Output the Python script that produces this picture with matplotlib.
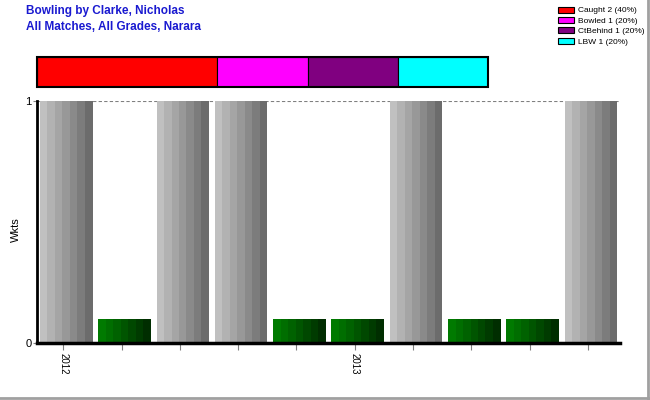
import matplotlib
matplotlib.use("Agg")
import matplotlib.pyplot as plt
import matplotlib.patches as patches
import numpy as np

plt.rcParams["font.family"] = ["Liberation Sans", "DejaVu Sans"]

# match-by-match wickets
wickets = [1, 0, 1, 1, 0, 0, 1, 0, 0, 1]
tick_labels = ["2012", "", "", "", "", "2013", "", "", "", ""]
zero_height = 0.1  # zero-wicket matches are drawn as a short green bar

# dismissal breakdown
dismissal_labels = ["Caught 2 (40%)", "Bowled 1 (20%)", "CtBehind 1 (20%)", "LBW 1 (20%)"]
dismissal_share = [40, 20, 20, 20]
dismissal_colors = ["#ff0000", "#ff00ff", "#800080", "#00ffff"]

title_lines = ["Bowling by Clarke, Nicholas", "All Matches, All Grades, Narara"]

grey_shades = ["#c0c0c0", "#b2b2b2", "#a5a5a5", "#989898", "#8a8a8a", "#7c7c7c", "#6c6c6c"]
green_shades = ["#007a00", "#006e00", "#006200", "#005500", "#004800", "#003b00", "#002e00"]

fig = plt.figure(figsize=(6.5, 4), dpi=100)

# main bar chart
ax = fig.add_axes([37 / 650, 57 / 400, 583 / 650, 242 / 400])
x = np.arange(len(wickets))
bar_w = 0.9
n_strip = len(grey_shades)
strip_w = bar_w / n_strip
for xi, w in zip(x, wickets):
    h = w if w > 0 else zero_height
    shades = grey_shades if w > 0 else green_shades
    for k, c in enumerate(shades):
        left = xi - bar_w / 2 + k * strip_w
        ax.bar(left, h, width=strip_w * 1.02, align="edge", color=c, linewidth=0)

ax.axhline(1, color="#808080", linestyle=(0, (3, 2)), linewidth=0.8, zorder=0)
ax.set_xlim(-0.5, len(wickets) - 0.5)
ax.set_ylim(0, 1)
ax.set_yticks([0, 1])
ax.set_yticklabels(["0", "1"], fontsize=8)
ax.set_xticks(x - 0.05)
ax.set_xticklabels(tick_labels, rotation=270, fontsize=7)
ax.tick_params(axis="x", length=5, color="#808080", pad=2)
ax.tick_params(axis="y", length=3, color="#808080", pad=1)
ax.set_ylabel("Wkts", fontsize=8)
ax.yaxis.set_label_coords(-0.027, 0.467)
for side in ["top", "right"]:
    ax.spines[side].set_visible(False)
ax.spines["left"].set_linewidth(2)
ax.spines["bottom"].set_linewidth(2.5)

# dismissal strip
ax2 = fig.add_axes([37 / 650, 313 / 400, 451 / 650, 30 / 400])
left = 0
for share, c in zip(dismissal_share, dismissal_colors):
    ax2.barh(0, share, left=left, height=1, color=c, edgecolor="black", linewidth=0.8)
    left += share
ax2.set_xlim(0, sum(dismissal_share))
ax2.set_ylim(-0.5, 0.5)
ax2.axis("off")
ax2.add_patch(patches.Rectangle((0, -0.5), sum(dismissal_share), 1, fill=False,
                                edgecolor="black", linewidth=1.5, clip_on=False))

# legend
handles = [patches.Patch(facecolor=c, edgecolor="black", linewidth=0.8, label=l)
           for c, l in zip(dismissal_colors, dismissal_labels)]
fig.legend(handles=handles, loc="upper left", bbox_to_anchor=(551 / 650, 1.0),
           fontsize=6, frameon=False, handlelength=2.0, handleheight=0.7,
           labelspacing=0.3, handletextpad=0.5, borderpad=0.3)

# titles
fig.text(26 / 650, 1 - 11 / 400, title_lines[0], color="#1a1ad0", fontsize=8.5,
         fontweight="bold", va="center")
fig.text(26 / 650, 1 - 27 / 400, title_lines[1], color="#1a1ad0", fontsize=8.5,
         fontweight="bold", va="center")

# outer border (right / bottom)
fig.add_artist(plt.Line2D([0.997, 0.997], [0, 1], color="#a0a0a0", linewidth=2))
fig.add_artist(plt.Line2D([0, 1], [0.004, 0.004], color="#a0a0a0", linewidth=2))

fig.savefig("out.png", dpi=100)
